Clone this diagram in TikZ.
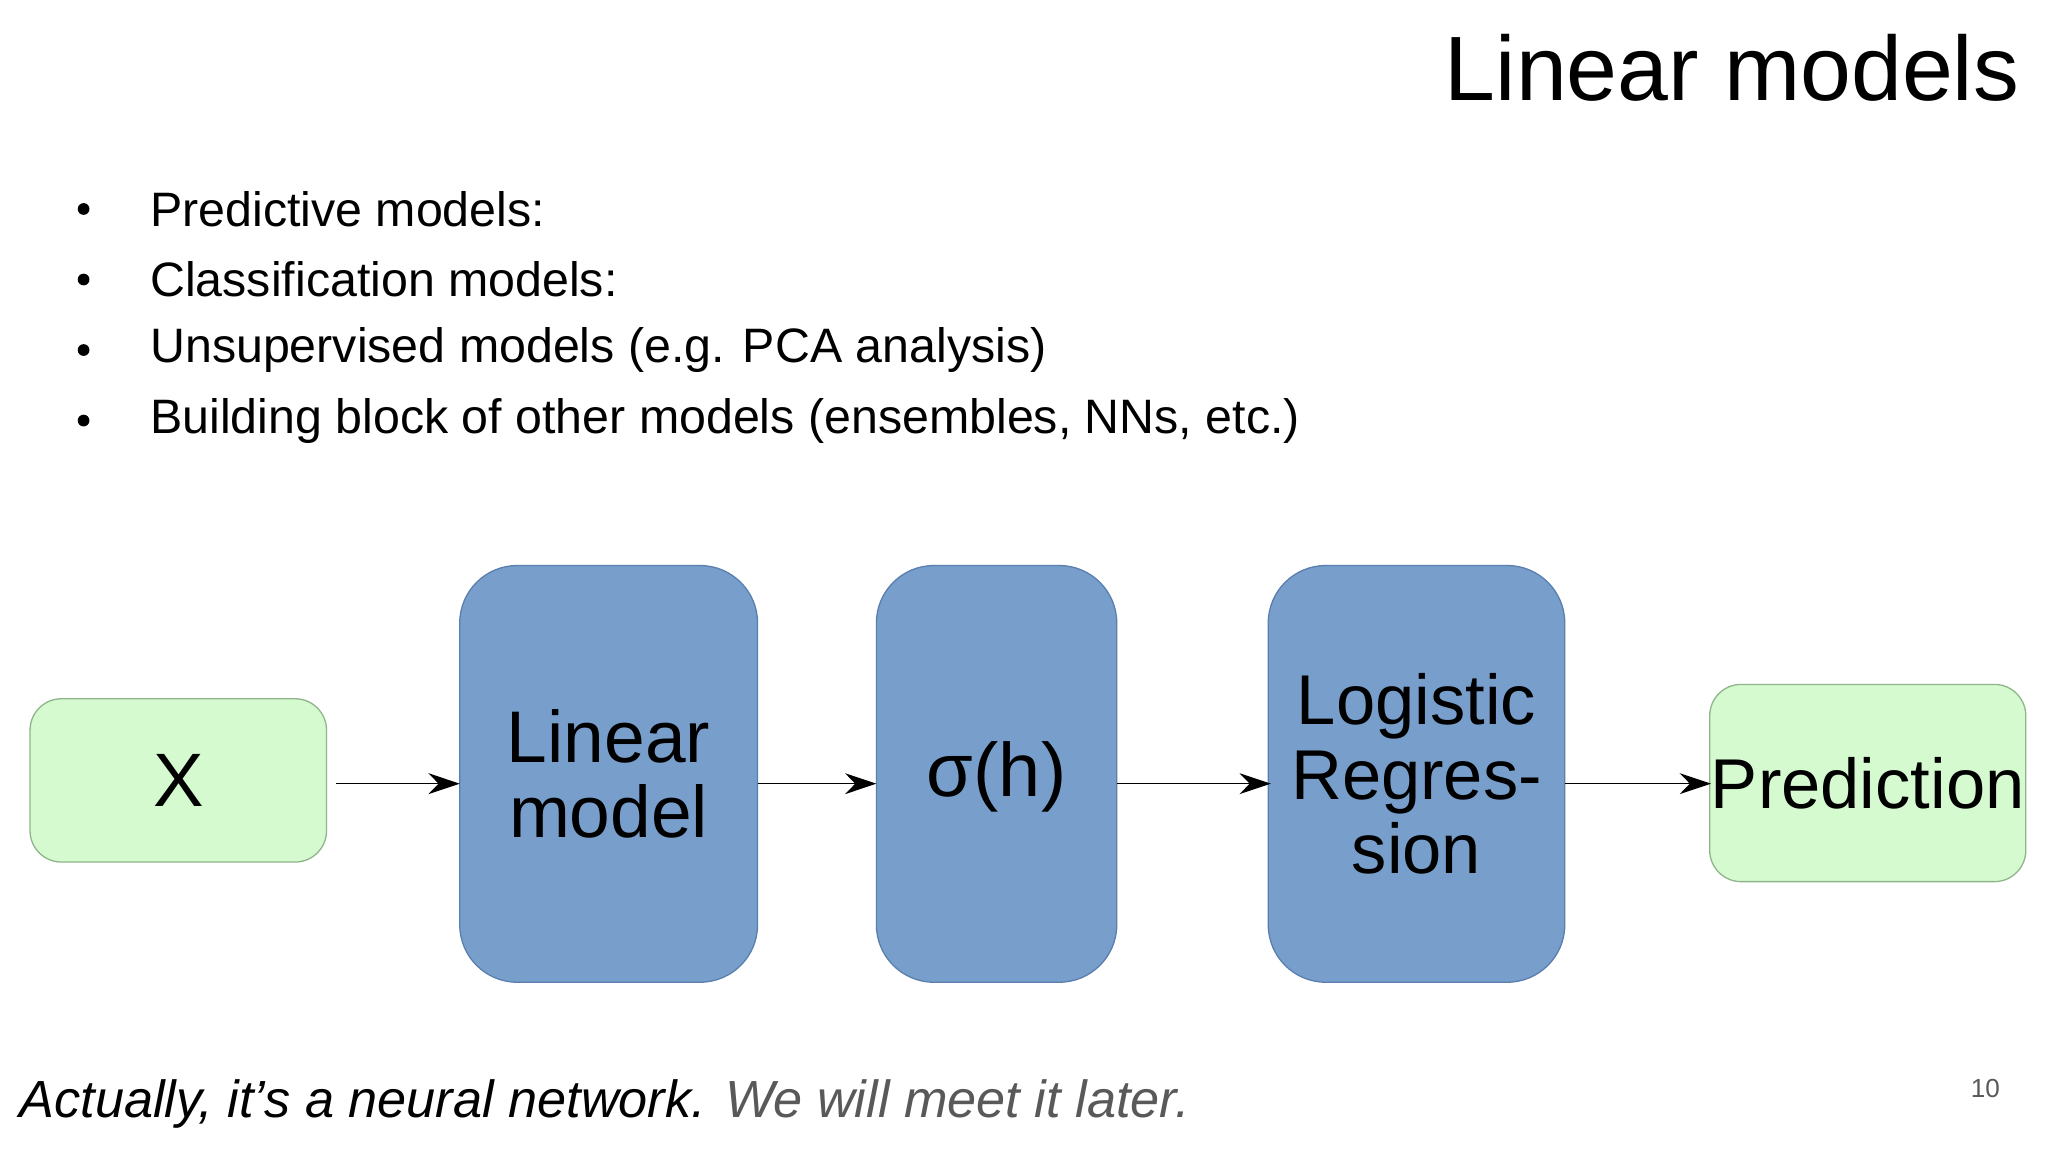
\documentclass[tikz,border=0pt]{standalone}
\usepackage{fontspec}
\setmainfont{Liberation Sans}
\usetikzlibrary{arrows.meta}
\definecolor{gfill}{HTML}{D5FAD0}
\definecolor{gdraw}{HTML}{8FB58A}
\definecolor{bfill}{HTML}{789FCC}
\definecolor{bdraw}{HTML}{5A7FAE}
\tikzset{
 gbox/.style={draw=gdraw,fill=gfill,rounded corners=12pt,line width=0.5pt},
 bbox/.style={draw=bdraw,fill=bfill,rounded corners=22pt,line width=0.5pt},
 lbl/.style={align=center,font=\fontsize{29}{31}\selectfont},
 arr/.style={-{Stealth[length=12pt,width=8pt]},line width=0.5pt},
 bul/.style={anchor=west,font=\fontsize{18.5}{20}\selectfont},
}
\begin{document}
\begin{tikzpicture}[x=0.5pt,y=-0.5pt]
\useasboundingbox[fill=white] (0,0) rectangle (1568,882);
\node[anchor=east,font=\fontsize{35}{38}\selectfont] (title) at (1553,52) {Linear models};
\foreach \yy/\t [count=\i] in {160/Predictive models:,214/Classification models:,268/Unsupervised models (e.g. PCA analysis),322/{Building block of other models (ensembles, NNs, etc.)}}{
 \node[bul] (b\i) at (108,\yy) {\t};
 \fill (64,\yy) circle (4.5);
}
\draw[gbox] (23,535) rectangle (250,660);
\node[lbl] (x) at (136.5,597.5) {X};
\draw[bbox] (352,433) rectangle (580,752);
\node[lbl,font=\fontsize{28}{29}\selectfont] (lin) at (466,592.5) {Linear\\model};
\draw[bbox] (671,433) rectangle (855,752);
\node[lbl] (sig) at (763,595) {σ(h)};
\draw[bbox] (971,433) rectangle (1198,752);
\node[lbl,font=\fontsize{27}{28.5}\selectfont] (log) at (1084.5,592.5) {Logistic\\Regres-\\sion};
\draw[gbox] (1309,524) rectangle (1551,675);
\node[lbl,font=\fontsize{27}{28}\selectfont] (pred) at (1430,600) {Prediction};
\coordinate (a0) at (257,600); \coordinate (a1) at (352,600);
\coordinate (c0) at (580,600); \coordinate (c1) at (671,600);
\coordinate (d0) at (855,600); \coordinate (d1) at (973,600);
\coordinate (e0) at (1198,600); \coordinate (e1) at (1310,600);
\draw[arr] (a0) -- (a1);
\draw[arr] (c0) -- (c1);
\draw[arr] (d0) -- (d1);
\draw[arr] (e0) -- (e1);
\node[anchor=west,font=\fontsize{20}{22}\selectfont\itshape] (foot) at (8,845) {Actually, it’s a neural network. \textcolor{black!65}{We will meet it later.}};
\node[font=\fontsize{10}{12}\selectfont,text=black!65] (pg) at (1520,833) {10};
\end{tikzpicture}
\end{document}
